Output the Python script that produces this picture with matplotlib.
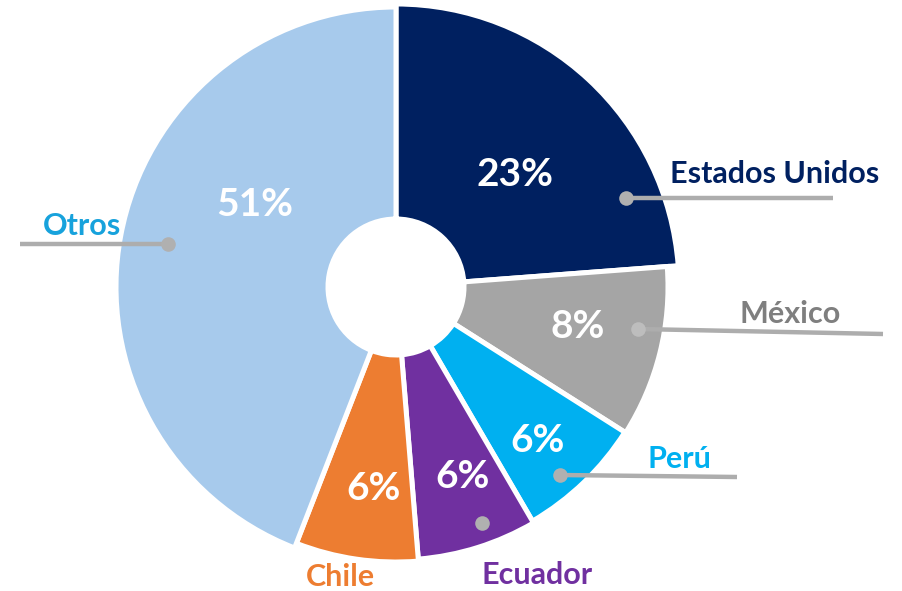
import matplotlib
matplotlib.use("Agg")
import matplotlib.pyplot as plt
import numpy as np

# ---- data ----
categories = ["Estados Unidos", "México", "Perú", "Ecuador", "Chile", "Otros"]
shares = [23.8, 10.2, 7.6, 7.1, 7.2, 44.1]          # slice sizes as drawn
pct_labels = ["23%", "8%", "6%", "6%", "6%", "51%"]  # labels as printed

# ---- style ----
slice_colors = ["#002060", "#A5A5A5", "#00B0F0", "#7030A0", "#ED7D31", "#A7CAEC"]
text_colors = ["#002060", "#7F7F7F", "#00B0F0", "#7030A0", "#ED7D31", "#17A2DC"]
W, H = 902, 591
def Y(y):
    return H - y

cx, cy = 396, Y(287)
hole = 68
radii = [283, 272, 271, 273, 275, 280]
font = "Lato"

fig = plt.figure(figsize=(W / 100, H / 100), dpi=100)
ax = fig.add_axes([0, 0, 1, 1])

wedges, _ = ax.pie(shares, colors=slice_colors, startangle=90, counterclock=False,
                   center=(cx, cy), radius=270,
                   wedgeprops=dict(edgecolor="white", linewidth=3.6))
for w, r in zip(wedges, radii):
    w.set_radius(r)
    w.set_width(r - hole)

ax.set_xlim(0, W)
ax.set_ylim(0, H)
ax.set_aspect("equal")
ax.axis("off")

# percentage labels (baseline positions, px)
pct_pos = [(515, 186), (578, 338), (538, 452), (463, 488), (374, 500), (255, 216)]
for (x, y), t in zip(pct_pos, pct_labels):
    ax.text(x, Y(y), t, color="white", fontsize=28, fontweight="bold",
            family=font, ha="center", va="baseline")

# category labels (left x, baseline y)
cat_pos = [(670, 183), (739, 323), (648, 468), (482, 584), (306, 586), (43, 235)]
for (x, y), t, c in zip(cat_pos, categories, text_colors):
    ax.text(x, Y(y), t, color=c, fontsize=22, fontweight="bold",
            family=font, ha="left", va="baseline")

# leader lines with dots
leaders = [((626, 198), (833, 198)), ((638, 329), (883, 334)),
           ((560, 475), (737, 477)), ((482, 523), None), ((168, 244), (20, 244))]
dot_colors = ["#B0B0B0", "#BDBDBD", "#B0B0B0", "#B0B0B0", "#B0B0B0"]
for (p0, p1), dc in zip(leaders, dot_colors):
    if p1 is not None:
        ax.plot([p0[0], p1[0]], [Y(p0[1]), Y(p1[1])], color="#ADADAD",
                lw=3.2, solid_capstyle="butt", zorder=3)
    ax.plot(p0[0], Y(p0[1]), "o", ms=10.5, color=dc, mec="none", zorder=4)

fig.savefig("out.png", dpi=100)
